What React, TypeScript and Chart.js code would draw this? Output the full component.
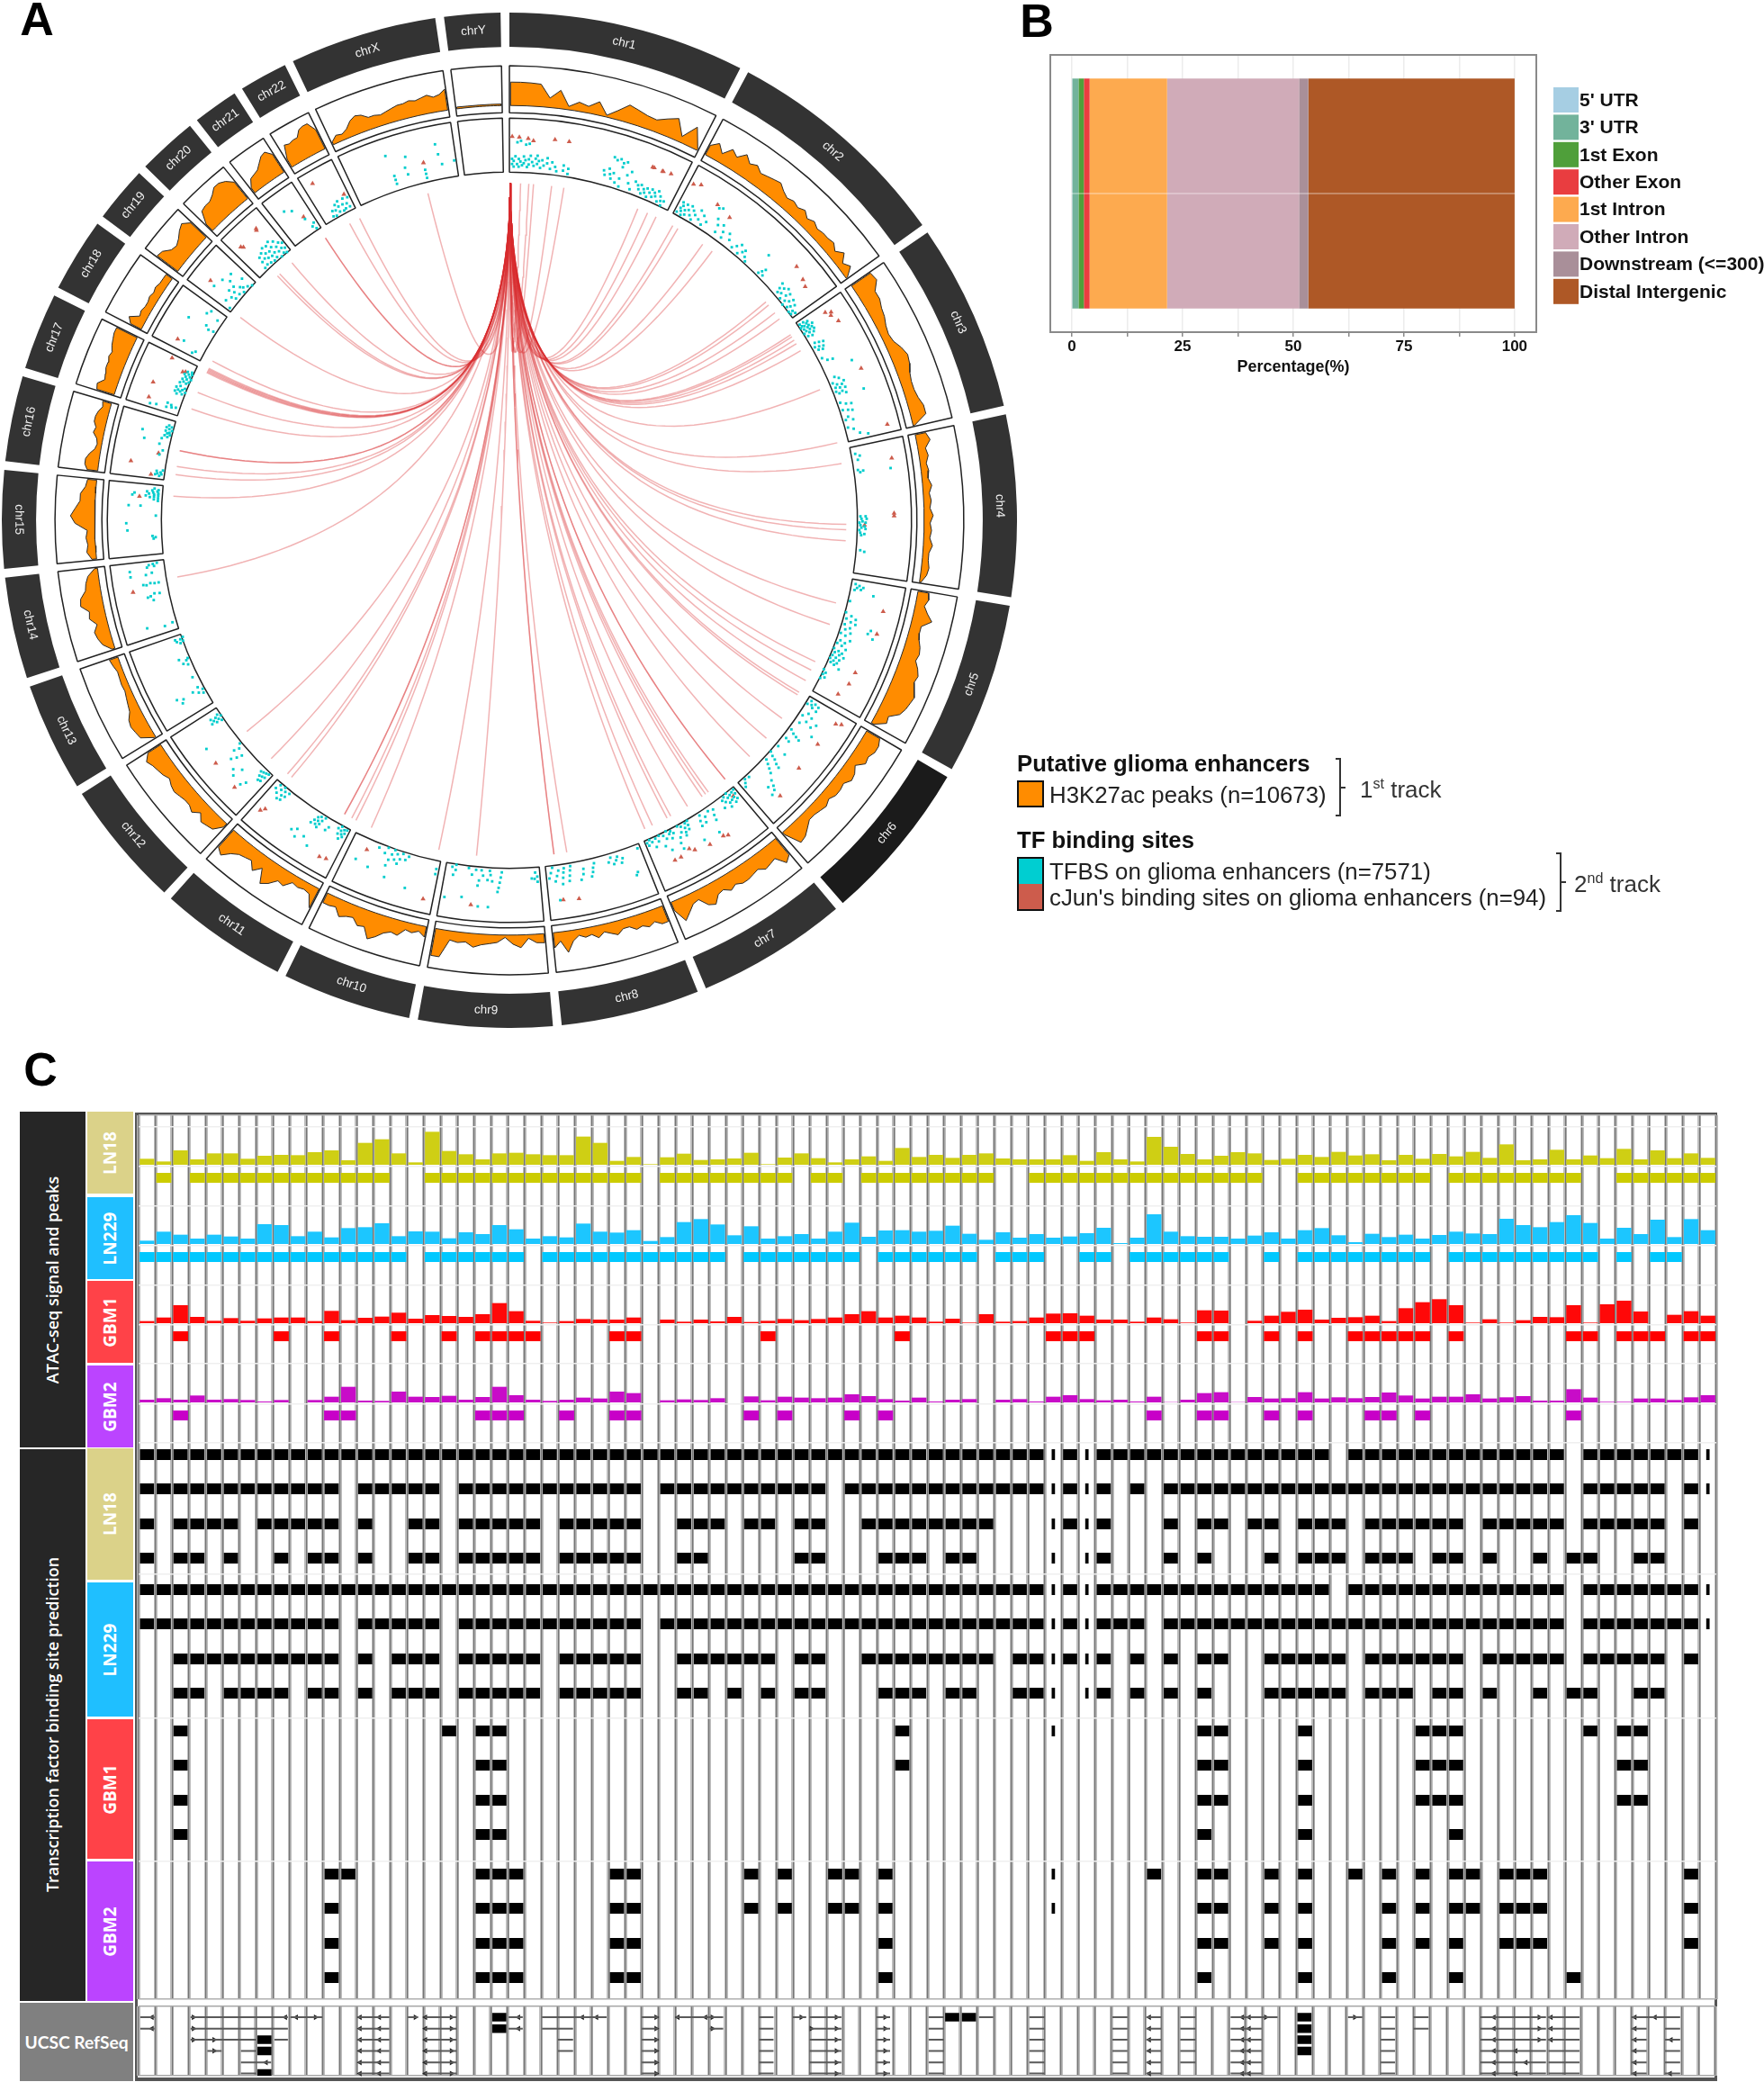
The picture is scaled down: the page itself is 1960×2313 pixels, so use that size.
import React, { useEffect, useRef } from "react";
import { Chart, registerables } from "chart.js";
Chart.register(...registerables);

const SANS = '"Liberation Sans", Arial, sans-serif';
const OPEN = '"Open Sans", sans-serif';

/* ---------- Panel A data ---------- */
const CHROMS = ["chr1","chr2","chr3","chr4","chr5","chr6","chr7","chr8","chr9","chr10","chr11","chr12","chr13","chr14","chr15","chr16","chr17","chr18","chr19","chr20","chr21","chr22","chrX","chrY"];
const CHROM_MB = [249,243,198,191,181,171,159,146,141,136,135,134,115,107,103,90,81,78,59,63,48,51,155,59];

const AREA_1 = [.77,.77,.76,.74,.31,.6,.11,.3,.22,.44,.06,.3,.58,.5,.42,.39,.55,.7,.2,.69,.05];
const AREA_2 = [.35,.55,.3,.6,.45,.7,.5,.6,.45,.5,.55,.6,.45,.35,.42,.35,.45,.3,.4,.3,.35,.35,.4,.25,.45,.2,.35,.05];
const AREA_3 = [.75,.8,.55,.55,.45,.4,.3,.25,.3,.45,.55,.5,.4,.35,.35,.4,.5,.5,.05];
const AREA_4 = [.35,.45,.25,.3,.2,.25,.2,.3,.2,.25,.2,.3,.2,.25,.2,.3,.2,.2,.25,.2,.05];
const AREA_5 = [.35,.4,.3,.45,.65,.35,.35,.4,.5,.55,.5,.65,.75,.7,.8,.9,.85,.8,.7,.4,.45,.1];
const AREA_6 = [.5,.6,.6,.5,.55,.3,.45,.5,.35,.4,.4,.3,.4,.35,.3,.3,.45,.6,.65,.1];
const AREA_7 = [.7,.85,.5,.55,.6,.45,.5,.55,.55,.45,.55,.4,.45,.7,.6,.3,.35,.55,.75,.3];
const AREA_8 = [.55,.55,.4,.5,.4,.45,.3,.3,.45,.35,.25,.4,.25,.3,.2,.35,.7,.3,.5];
const AREA_9 = [.3,.28,.12,.42,.3,.08,.25,.3,.35,.45,.3,.35,.3,.9,.9];
const AREA_10 = [.35,.2,.3,.25,.5,.45,.55,.75,.9,.55,.6,.4,.45,.55,.3,.35,.35];
const AREA_11 = [.7,.3,.25,.3,.25,.5,.45,.7,.85,.4,.65,.4,.45,.5,.65,.9,.75];
const AREA_12 = [.15,.45,.5,.55,.35,.55,.45,.45,.5,.55,.5,.4,.5,.55,.6,.7,.5];
const AREA_13 = [.05,.45,.5,.55,.5,.35,.3,.25,.2,.22,.2,.18,.25,.3];
const AREA_14 = [.1,.35,.45,.5,.35,.55,.5,.75,.7,.5,.45,.35,.1];
const AREA_15 = [.15,.3,.25,.3,.25,.65,.8,.65,.5,.5,.35,.3];
const AREA_16 = [.35,.45,.45,.35,.2,.15,.2,.35,.3,.4,.4,.35,.25,.3];
const AREA_17 = [.6,.65,.45,.5,.55,.55,.6,.55,.65,.7,.75,.75];
const AREA_18 = [.4,.55,.25,.3,.25,.25,.3,.25,.3,.25,.25,.25];
const AREA_19 = [.85,.8,.6,.55,.65,.8,.9,.7];
const AREA_20 = [.3,.7,.75,.75,.85,1,1,.9,.7];
const AREA_21 = [.2,.45,.5,.55,.7,.85,.9,.7];
const AREA_22 = [.3,.75,.7,.75,.75,.95,1,1,.7];
const AREA_X = [.1,.25,.2,.3,.5,.6,.55,.4,.4,.35,.4,.45,.5,.5,.55,.5,.55,.6,.5,.55,.7];
const AREA_Y = [.06,.05,.05,.05,.05];
const AREAS = [AREA_1,AREA_2,AREA_3,AREA_4,AREA_5,AREA_6,AREA_7,AREA_8,AREA_9,AREA_10,AREA_11,AREA_12,AREA_13,AREA_14,AREA_15,AREA_16,AREA_17,AREA_18,AREA_19,AREA_20,AREA_21,AREA_22,AREA_X,AREA_Y];

const TF_1 = [.01,.2,.01,.3,.02,.15,.02,.26,.03,.35,.04,.2,.05,.3,.05,.15,.06,.25,.07,.18,.08,.35,.08,.22,.09,.28,.1,.15,.11,.3,.11,.2,.12,.37,.13,.25,.14,.18,.15,.32,.16,.22,.16,.38,.17,.28,.18,.15,.19,.3,.2,.2,.22,.35,.22,.25,.24,.15,.25,.28,.27,.2,.28,.12,.32,.25,.32,.15,.35,.2,.35,.1,.04,.62,.06,.65,.09,.58,.11,.6,.6,.62,.62,.58,.64,.62,.66,.56,.68,.6,.66,.48,.56,.32,.57,.24,.59,.38,.6,.28,.61,.2,.62,.32,.64,.15,.66,.25,.67,.1,.7,.36,.72,.22,.74,.12,.76,.3,.78,.25,.79,.18,.8,.28,.81,.12,.82,.22,.83,.16,.84,.26,.85,.1,.86,.2,.87,.28,.88,.14,.89,.24,.9,.18,.91,.3,.92,.1,.93,.22,.94,.14,.95,.06,.96,.16,.72,.45];
const TF_2 = [.01,.1,.02,.2,.02,.32,.03,.15,.03,.26,.04,.08,.05,.2,.05,.32,.06,.12,.07,.24,.08,.34,.09,.16,.1,.28,.11,.1,.12,.22,.14,.36,.15,.18,.17,.3,.18,.12,.2,.22,.22,.58,.24,.62,.25,.4,.27,.3,.28,.16,.3,.36,.32,.25,.33,.14,.36,.3,.38,.2,.42,.12,.44,.2,.46,.28,.47,.1,.49,.18,.5,.24,.52,.14,.54,.08,.62,.48,.65,.1,.66,.17,.67,.24,.68,.12,.8,.3,.81,.2,.82,.12,.83,.26,.84,.16,.85,.32,.86,.08,.87,.2,.88,.28,.89,.12,.9,.04,.91,.18,.92,.26,.93,.08,.94,.14,.95,.22,.96,.05,.97,.12,.98,.06,.99,.14];
const TF_3 = [.02,.08,.02,.16,.03,.24,.04,.1,.04,.2,.05,.06,.05,.14,.06,.22,.06,.3,.07,.1,.07,.18,.08,.26,.09,.12,.09,.2,.1,.06,.1,.28,.11,.16,.12,.24,.13,.1,.14,.18,.2,.14,.21,.22,.22,.3,.23,.1,.24,.18,.25,.26,.26,.14,.27,.22,.33,.12,.36,.2,.37,.3,.44,.62,.5,.18,.52,.25,.54,.1,.55,.32,.56,.17,.57,.26,.58,.12,.59,.2,.6,.3,.61,.1,.62,.22,.63,.15,.64,.28,.66,.62,.7,.1,.72,.2,.73,.3,.76,.1,.77,.2,.78,.28,.82,.16,.84,.1,.85,.24,.9,.1,.92,.2,.96,.3,.98,.45];
const TF_4 = [.05,.12,.07,.2,.1,.15,.18,.12,.19,.22,.2,.16,.2,.75,.55,.1,.55,.2,.57,.12,.57,.22,.59,.14,.6,.08,.6,.2,.62,.1,.63,.18,.64,.12,.65,.2,.66,.08,.68,.1,.69,.18,.7,.12,.82,.12,.83,.2];
const TF_5 = [.03,.12,.04,.2,.05,.28,.06,.16,.07,.24,.08,.12,.1,.5,.18,.08,.28,.06,.3,.18,.32,.28,.33,.1,.35,.2,.36,.3,.37,.62,.38,.1,.4,.22,.4,.58,.42,.14,.43,.7,.44,.26,.46,.08,.47,.18,.5,.3,.52,.12,.53,.22,.55,.08,.56,.18,.58,.28,.6,.06,.61,.16,.62,.24,.63,.1,.64,.2,.65,.3,.66,.08,.67,.16,.68,.24,.69,.06,.7,.14,.71,.22,.72,.1,.73,.18,.75,.3,.8,.04,.82,.1,.84,.06,.86,.12,.88,.05];
const TF_6 = [.02,.12,.03,.22,.04,.3,.05,.16,.06,.08,.07,.2,.08,.3,.13,.2,.15,.3,.17,.12,.18,.45,.2,.25,.22,.38,.24,.15,.28,.5,.33,.1,.35,.18,.36,.26,.37,.34,.42,.12,.43,.2,.52,.1,.54,.3,.6,.06,.62,.14,.63,.22,.65,.3,.66,.38,.68,.1,.7,.18,.72,.26,.74,.34,.78,.45,.8,.55,.82,.62,.84,.5,.86,.66,.9,.1,.94,.08,.96,.14,.98,.2];
const TF_7 = [.01,.08,.02,.16,.03,.26,.04,.1,.05,.2,.06,.3,.07,.12,.08,.22,.09,.05,.1,.14,.11,.24,.12,.32,.13,.08,.14,.18,.16,.12,.18,.26,.28,.15,.3,.25,.31,.35,.33,.12,.38,.18,.4,.28,.42,.1,.44,.2,.45,.3,.5,.55,.55,.06,.56,.14,.57,.22,.58,.08,.6,.16,.61,.24,.62,.3,.63,.1,.65,.2,.66,.06,.68,.28,.7,.38,.72,.14,.74,.08,.75,.22,.76,.12,.78,.04,.8,.18,.82,.1,.84,.3,.86,.06,.88,.16,.9,.08,.92,.24,.94,.12,.96,.06,.98,.16,.99,.1,.7,.5,.35,.58,.8,.42];
const TF_8 = [.02,.12,.2,.2,.22,.28,.25,.14,.27,.2,.3,.26,.32,.12,.35,.2,.5,.14,.52,.22,.53,.3,.55,.38,.62,.2,.63,.3,.66,.4,.75,.1,.76,.18,.77,.28,.78,.38,.82,.12,.83,.2,.84,.3,.85,.42,.88,.15,.9,.25,.92,.35,.94,.08,.96,.18,.98,.28,.1,.55,.12,.6,.9,.72];
const TF_9 = [.02,.22,.02,.32,.04,.14,.05,.26,.08,.25,.4,.12,.41,.22,.42,.32,.43,.42,.44,.5,.5,.3,.52,.18,.53,.1,.55,.28,.6,.2,.62,.1,.64,.3,.65,.4,.68,.1,.72,.2,.76,.08,.9,.05,.9,.15,.92,.25,.94,.1,.53,.8,.63,.8,.8,.65,.97,.7];
const TF_10 = [.02,.2,.02,.3,.35,.1,.38,.18,.42,.08,.44,.2,.46,.3,.48,.12,.5,.24,.52,.06,.54,.16,.56,.28,.6,.06,.62,.18,.7,.12,.89,.5,.74,.55,.57,.4,.54,.62,.3,.7];
const TF_11 = [.02,.08,.03,.16,.04,.24,.05,.1,.06,.2,.07,.3,.08,.14,.09,.06,.1,.22,.12,.12,.22,.2,.24,.28,.3,.08,.32,.16,.33,.24,.34,.32,.35,.1,.36,.2,.37,.28,.38,.14,.4,.22,.42,.3,.5,.55,.4,.6,.8,.1,.82,.2,.84,.3,.85,.12,.86,.22,.88,.06,.88,.32,.9,.14,.92,.24,.94,.08,.96,.18,.55,.62,.48,.7,.32,.72];
const TF_12 = [.03,.08,.04,.18,.05,.28,.06,.1,.07,.2,.08,.3,.09,.12,.1,.22,.12,.14,.15,.5,.18,.6,.28,.38,.3,.58,.35,.5,.4,.2,.42,.3,.45,.4,.48,.15,.5,.25,.52,.08,.7,.65,.86,.08,.87,.18,.88,.28,.89,.12,.9,.22,.91,.05,.92,.16,.93,.26,.94,.1];
const TF_13 = [.17,.1,.2,.18,.22,.08,.24,.28,.27,.15,.18,.55,.25,.62,.22,.5,.42,.15,.6,.12,.63,.2,.66,.12,.68,.08,.7,.25,.9,.1,.92,.04,.93,.16,.95,.08,.96,.18,.97,.02];
const TF_14 = [.1,.12,.08,.28,.12,.62,.7,.2,.7,.28,.71,.36,.69,.44,.7,.5,.55,.22,.56,.32,.53,.4,.52,.46,.47,.36,.9,.72,.83,.72,.97,.26,.96,.34,.98,.18,.93,.38,.94,.24,.83,.42,.85,.3];
const TF_15 = [.22,.2,.24,.16,.26,.22,.35,.7,.45,.72,.56,.15,.7,.45,.7,.68,.78,.12,.8,.2,.82,.12,.83,.28,.84,.2,.85,.36,.86,.12,.87,.2,.88,.3,.89,.12,.9,.22,.91,.34,.92,.14,.93,.24,.94,.12,.96,.2,.85,.62,.88,.58];
const TF_16 = [.04,.14,.06,.22,.07,.1,.08,.18,.1,.12,.12,.2,.14,.08,.4,.2,.48,.15,.62,.55,.68,.22,.72,.12,.74,.18,.76,.08,.78,.14,.8,.1,.82,.18,.84,.06,.86,.12,.88,.18,.9,.08,.92,.14,.75,.62,.58,.24];
const TF_17 = [.05,.62,.08,.3,.1,.2,.12,.12,.14,.22,.16,.3,.07,.5,.38,.2,.4,.1,.42,.25,.44,.15,.45,.05,.46,.2,.48,.12,.5,.25,.52,.08,.54,.18,.6,.22,.62,.1,.64,.16,.66,.06,.68,.2,.7,.12,.72,.04,.74,.16,.76,.08,.78,.2,.8,.12,.82,.06,.84,.16,.86,.08];
const TF_18 = [.1,.2,.18,.5,.05,.25,.62,.1,.6,.2,.65,.28,.6,.65,.85,.4,.93,.35,.85,.15];
const TF_19 = [.05,.1,.15,.25,.25,.6,.3,.2,.35,.12,.4,.32,.45,.22,.5,.55,.5,.12,.55,.3,.6,.42,.62,.08,.65,.2,.7,.15,.75,.5,.8,.1,.85,.28,.9,.05];
const TF_20 = [.25,.1,.3,.22,.32,.32,.35,.12,.4,.24,.42,.36,.45,.1,.48,.2,.5,.3,.52,.42,.55,.08,.58,.18,.6,.28,.62,.4,.65,.1,.68,.2,.7,.32,.72,.44,.75,.05,.78,.16,.8,.26,.82,.38,.85,.08,.88,.18,.9,.3,.92,.05,.95,.14,.97,.25];
const TF_21 = [.35,.7,.55,.62,.75,.35,.82,.15,.9,.08,.92,.2];
const TF_22 = [.3,.1,.35,.2,.4,.08,.45,.18,.5,.28,.55,.12,.58,.22,.62,.32,.68,.1,.72,.22,.76,.12,.8,.32,.85,.2,.9,.12,.95,.3];
const TF_X = [.38,.75,.4,.33,.4,.25,.4,.17,.52,.42,.53,.28,.7,.2,.7,.12,.7,.28,.84,.72,.85,.52,.87,.32,.99,.35,.55,.62];
const TF_Y: number[] = [];
const TFBS = [TF_1,TF_2,TF_3,TF_4,TF_5,TF_6,TF_7,TF_8,TF_9,TF_10,TF_11,TF_12,TF_13,TF_14,TF_15,TF_16,TF_17,TF_18,TF_19,TF_20,TF_21,TF_22,TF_X,TF_Y];

const CJ_1 = [.01,.73,.05,.72,.1,.7,.13,.66,.25,.72,.33,.72,.82,.68,.83,.68,.88,.68,.885,.68,.93,.7];
const CJ_2 = [.02,.72,.06,.78,.2,.62,.3,.55,.78,.72,.86,.65,.9,.6];
const CJ_3 = [.05,.62,.07,.72,.09,.68,.15,.75,.52,.72,.95,.85];
const CJ_4 = [.13,.8,.53,.75,.55,.75,.62,.18];
const CJ_5 = [.2,.75,.38,.75,.72,.62,.82,.6,.93,.5];
const CJ_6 = [.06,.85,.08,.75,.3,.68,.55,.68,.82,.78];
const CJ_7 = [.05,.18,.3,.72,.34,.68,.48,.68,.62,.62,.66,.55,.76,.62,.82,.62];
const CJ_8 = [.87,.72,.72,.75];
const CJ_9 = [.7,.78];
const CJ_10 = [.82,.25,.09,.82];
const CJ_11 = [.15,.78,.08,.75,.9,.62,.93,.7];
const CJ_12 = [.2,.72,.52,.68];
const CJ_13: number[] = [];
const CJ_14 = [.63,.72];
const CJ_15 = [.83,.48];
const CJ_16 = [.42,.22,.22,.72,.05,.3];
const CJ_17 = [.15,.68,.42,.7,.8,.25,.95,.55,.82,.2];
const CJ_18 = [.15,.62];
const CJ_19 = [.3,.72];
const CJ_20 = [.18,.72,.22,.68,.7,.75,.72,.78];
const CJ_21 = [.75,.4];
const CJ_22 = [.25,.85,.9,.38];
const CJ_X = [.7,.42];
const CJ_Y: number[] = [];
const CJUN = [CJ_1,CJ_2,CJ_3,CJ_4,CJ_5,CJ_6,CJ_7,CJ_8,CJ_9,CJ_10,CJ_11,CJ_12,CJ_13,CJ_14,CJ_15,CJ_16,CJ_17,CJ_18,CJ_19,CJ_20,CJ_21,CJ_22,CJ_X,CJ_Y];

const LINK_TARGET_DEG = [1.9,3.3,4.1,7.2,9.3,22.4,24.2,25.8,29,30,35,37,49.6,50.3,52,53.3,56.6,57,57.7,58.4,59.8,67.2,76.7,80.3,90.7,91.6,93.5,104.2,108,114.8,116.4,118.4,120.7,121.2,126,130.3,134.5,140.2,140.2,143.8,144.4,145.1,148.1,151.4,152.1,154.9,156.3,170.2,172.4,172.4,185.6,192.1,204.2,207.1,207.9,209.3,209.3,220.3,221.2,225,231.2,260.3,274.1,277.8,279.2,281.9,281.9,289.3,292.3,296,296.2,296.4,296.6,296.8,298.2,307,316.5,317,319.8,326.9,326.9,331.7,333.6,346];

/* ---------- Panel B data ---------- */
const ANNO_LABELS = ["5' UTR","3' UTR","1st Exon","Other Exon","1st Intron","Other Intron","Downstream (<=300)","Distal Intergenic"];
const ANNO_VALUES = [0.1,1.4,1.2,1.3,17.5,29.8,2.1,46.6];
const ANNO_COLORS = ["#a6cee3","#72b39b","#4f9f3a","#e93d40","#fdaa4f","#d0abb8","#a98f99","#ae5826"];
const PCT_TICKS = [0,12.5,25,37.5,50,62.5,75,87.5,100];

/* ---------- Panel C data ---------- */
const SIG_LN18 = [20,11,48,18,38,38,20,30,33,32,42,48,15,73,85,38,8,110,46,35,18,38,40,35,32,32,94,73,13,26,2,25,37,16,18,21,40,2,24,38,22,8,18,28,13,56,26,33,23,33,38,21,18,18,18,32,13,42,18,11,93,60,36,18,30,42,38,16,20,33,26,43,31,35,15,33,20,36,28,43,23,68,15,18,50,18,31,22,53,18,48,22,38,23];
const SIG_LN229 = [11,41,31,18,31,25,18,66,63,26,41,22,53,56,69,26,42,41,19,39,33,63,49,18,26,22,68,41,38,46,10,23,73,83,65,29,59,18,26,33,18,41,71,24,45,46,41,44,61,34,14,39,21,33,21,25,36,54,3,21,99,41,26,24,24,18,28,39,18,46,53,29,6,34,23,31,18,30,41,35,33,84,63,56,73,96,70,18,54,33,81,23,83,46];
const SIG_GBM1 = [7,19,60,21,8,17,8,16,19,19,7,41,10,18,22,35,15,27,24,21,30,67,40,8,2,7,14,12,12,19,0,12,5,12,6,21,4,8,14,10,14,19,30,40,19,25,19,5,15,2,30,5,7,19,32,33,25,12,12,5,19,13,2,43,42,0,8,25,38,45,12,18,20,25,7,50,70,80,60,2,13,2,10,21,20,60,2,63,75,39,0,28,40,25];
const SIG_GBM2 = [9,14,9,23,9,11,8,3,8,0,8,19,52,6,5,36,19,18,22,9,18,52,24,9,5,9,16,13,36,31,0,7,10,8,14,0,20,7,19,16,14,16,27,21,11,6,16,3,9,11,0,9,11,3,19,24,11,7,9,3,19,1,9,31,34,1,18,13,14,34,13,17,14,18,33,23,13,19,19,27,13,17,21,6,6,44,16,2,2,13,13,8,17,24];
const PEAK_LN18 = "1 3-14 17-29 31-38 40 41 43-50 53-66 69-76 78-85 88-93";
const PEAK_LN229 = "0-15 17-22 24-34 36-42 44-49 51-53 56 57 59-64 67 69-76 78-86 88 90 91";
const PEAK_GBM1 = "2 8 11 15 18 20-23 28 29 37 45 54-56 63 64 67 69 72-76 78 85 86 88-90 92 93";
const PEAK_GBM2 = "2 11 12 20-22 25 28 29 36 38 42 44 60 63 64 67 69 73 74 76 85";
const TF_R1 = "0-70 72-84 86-93";
const TF_R2 = "0-11 13-17 19-29 31-40 42-57 59 61-84 86-90 92 93";
const TF_R3 = "0 2-5 7-11 13 16 17 19-23 25-29 32-34 36 37 39 40 43-50 54-57 61 63 64 66 67 69-71 73-78 80-84 86-90 92";
const TF_R4 = "0 2 3 5 8 10 11 13 16 17 19-23 25-29 32 33 39 40 44-46 48 49 54 56 57 61 63 67 69-71 73-75 77 78 80 83 85 86 89 90";
const TF_R5 = "0-70 72-84 86-93";
const TF_R6 = "0-11 13-17 19-29 31-59 61-84 86-93";
const TF_R7 = "2-11 13 15-17 19-23 25-29 32-37 39 40 43-50 52-57 59 61 63 64 67-71 73-78 80-84 86-90 92";
const TF_R8 = "2 3 5-8 10 11 13 15-17 19-23 25-29 32 33 35 37 39 40 44-46 48 49 52-54 56 57 59 61 63 67-71 73-75 77 78 80 83 85 86 89 90";
const TF_R9 = "2 18 20 21 45 54 63 64 69 76-78 86 88 89";
const TF_R10 = "2 20 21 45 63 64 69 76-78 88 89";
const TF_R11 = "2 20 21 63 64 69 76-78 88 89";
const TF_R12 = "2 20 21 63 69 78";
const TF_R13 = "11 12 20-22 28 29 36 38 41 42 44 54 60 63 64 67 69 72 74 76 78 79 81-83 92";
const TF_R14 = "11 20-22 28 29 36 38 41 42 44 54 63 64 67 69 74 76 78 79 81-83 92";
const TF_R15 = "11 20-22 28 29 44 63 64 67 69 74 76 78 81-83 92";
const TF_R16 = "11 20-22 28 29 44 63 69 74 78 85";
const TF_ROWS = [TF_R1,TF_R2,TF_R3,TF_R4,TF_R5,TF_R6,TF_R7,TF_R8,TF_R9,TF_R10,TF_R11,TF_R12,TF_R13,TF_R14,TF_R15,TF_R16];
const NARROW_COLS = [54,56,93];

const ALL = [0,1,2,3,4,5];
const A5 = [1,2,3,4,5];
const GENE_SEGMENTS: [number[],number,number][] = [
  [[0,1],.1,.95],[[0,1],3.1,8.9],[[0],9.05,10.95],[[2],3.1,7],[[2],8.1,8.9],[[3],4.1,4.95],[[3,5],6.1,7],[[4],6.1,7.9],
  [ALL,13.1,14.05],[ALL,14.05,14.95],[[0],16.05,16.65],[ALL,17.05,18.95],[[0,1],22.05,22.9],[[0],24.05,27.9],[[1],24.05,25.9],[[2,3],25,25.9],
  [ALL,30,30.95],[[0],32.05,34.85],[[1],34.05,34.85],[ALL,37,37.85],[[0],39,39.8],[ALL,40,41.9],[ALL,44,44.8],
  [ALL,47.1,48],[[0],50.1,50.95],[ALL,53.1,54],[ALL,58.05,58.95],[ALL,60.1,60.95],[[0,1,2,3,4],62.1,63],[[0],65.1,67.9],[A5,65.1,66.95],
  [[0],72.1,72.95],[ALL,74.05,74.9],[[0,1],76,76.9],[ALL,80,83.9],[ALL,84.05,85.9],[[0],89,91.9],[A5,89,89.9],[A5,91,91.9],
];
const GENE_ARROWS: [number[],number,number][] = [
  [[0,1],.8,-1],[[0,1,2],3.27,1],[[0],8.75,-1],[[0],9.4,-1],[[0],10.55,1],[[2,3],4.5,1],[[4],7.6,-1],
  [ALL,13.2,-1],[ALL,14.35,-1],[[0],16.5,1],[ALL,17.1,-1],[ALL,18.65,1],[[0,1],22.65,-1],[[0],26.45,-1],[[0],27.3,-1],
  [ALL,30.85,1],[[0],32.15,-1],[[0],33.8,-1],[[0,1],34.2,1],[[0],39.5,1],[[1],40.1,1],[ALL,41.6,1],[ALL,44.5,1],
  [ALL,60.25,-1],[ALL,65.8,-1],[ALL,66.2,-1],[[0],67.2,1],[[0],72.5,1],[ALL,80.8,-1],[[0,1,2],83.5,1],[[0,1,2],84.2,-1],
  [[3,5],82.1,-1],[[4],82.7,-1],[ALL,89.2,-1],[[0],90.4,-1],[[2],91.35,-1],[[5],91.3,-1],
];
const GENE_EXONS: [number,number,number][] = [[2,7,-1],[3,7,-1],[5,7,-1],[0,21,1],[1,21,1],[0,48,0],[0,49,1],[0,69,0],[1,69,0],[2,69,0],[3,69,0]];

/* ---------- Layout constants ---------- */
const CX = 566, CY = 578;
const R_OUT = 563, R_IN = 386;
const GAP_MB = 9.2;
const AREA_R0 = 464, AREA_RS = 34, TF_R0 = 387, TF_RS = 58, LINK_R = 377;
const C_TOP = 1236;
const SIG_BASE = [1294,1382,1470,1558];
const PEAK_TOP = [1303,1391,1479,1567];
const PEAK_H = 11;
const TF_Y_PX = [1616,1654,1693,1731,1766,1804,1843,1881,1923,1961,2000,2038,2082,2120,2159,2197];
const TF_H = 12;
const C_RULES = [1239,1252,1340,1428,1515,1603,1749,1909,2068,2221,1296,1384,1472,1560];
const C_EDGES = [1239,2221];
const GENE_ROW_Y = [13.7,27,40,53,66.5,79.5];
const TRACKS = [
  { sig: SIG_LN18, peak: PEAK_LN18, sigColor: "#cfcf14", peakColor: "#cccc00" },
  { sig: SIG_LN229, peak: PEAK_LN229, sigColor: "#1cc6ff", peakColor: "#00c8ff" },
  { sig: SIG_GBM1, peak: PEAK_GBM1, sigColor: "#ff0808", peakColor: "#ff0000" },
  { sig: SIG_GBM2, peak: PEAK_GBM2, sigColor: "#c80cc8", peakColor: "#c800c8" },
];

const COLS = Array.from({ length: 94 }, (_, i) => String(i));
function parseCols(s: string) {
  const out = new Set<number>();
  s.split(" ").forEach((p) => {
    const [a, b] = p.split("-").map(Number);
    for (let i = a; i <= (b ?? a); i++) out.add(i);
  });
  return out;
}

const cum: number[] = [0];
CHROM_MB.forEach((m) => cum.push(cum[cum.length - 1] + m + GAP_MB));
const deg = (i: number, f: number) => {
  const k = 360 / cum[24];
  const s = cum[i] * k + 0.15;
  const e = s - 0.3 + CHROM_MB[i] * k;
  return s + f * (e - s);
};
const polar = (d: number, r: number) => {
  const t = (d * Math.PI) / 180;
  return { x: r * Math.sin(t), y: -r * Math.cos(t) };
};
const baseOpts = { responsive: false, animation: false as const, devicePixelRatio: 1, events: [] as string[] };

function useChart(make: (c: HTMLCanvasElement) => Chart) {
  const ref = useRef<HTMLCanvasElement>(null);
  useEffect(() => {
    const ch = make(ref.current!);
    return () => ch.destroy();
  }, []);
  return ref;
}

function Cv({ make, x, y, w, h }: any) {
  const ref = useChart(make);
  return <canvas ref={ref} width={w} height={h} style={{ position: "absolute", left: x, top: y, width: w, height: h }} />;
}

/* ---------- Panel A ---------- */
const ringsMake = (c: HTMLCanvasElement) => {
  const data = CHROM_MB.flatMap((m) => [m, GAP_MB]);
  const labels = CHROMS.flatMap((n) => [n, ""]);
  const clear = "rgba(0,0,0,0)";
  const blank = { data, backgroundColor: clear, borderWidth: 0 };
  const outline = data.map((_, i) => (i % 2 ? 0 : 1.5));
  const fillWhite = data.map((_, i) => (i % 2 ? clear : "#ffffff"));
  const labelPlugin = {
    id: "chrLabels",
    afterDatasetsDraw(chart: any) {
      const g = chart.ctx;
      const arcs = chart.getDatasetMeta(0).data;
      CHROMS.forEach((name, i) => {
        const arc = arcs[i * 2];
        const mid = (arc.startAngle + arc.endAngle) / 2;
        const th = (((mid + Math.PI / 2) * 180) / Math.PI + 360) % 360;
        const r = (arc.innerRadius + arc.outerRadius) / 2;
        const px = arc.x + r * Math.cos(mid), py = arc.y + r * Math.sin(mid);
        g.save();
        g.translate(px, py);
        const bottom = th > 90 && th <= 271;
        g.rotate((((bottom ? th - 180 : th) * Math.PI) / 180));
        g.fillStyle = "#f2f2f2";
        g.font = `13.5px ${SANS}`;
        g.textAlign = "center";
        g.textBaseline = "middle";
        g.fillText(name, 0, 0);
        g.restore();
      });
    },
  };
  return new Chart(c, {
    type: "doughnut",
    data: {
      labels,
      datasets: [
        { data, weight: 38, borderWidth: 0, backgroundColor: labels.map((n, i) => (i % 2 ? clear : n === "chr6" ? "#1b1b1b" : "#333333")) },
        { ...blank, weight: 21 },
        { data, weight: 52, backgroundColor: fillWhite, borderColor: "#222222", borderWidth: outline },
        { ...blank, weight: 6 },
        { data, weight: 60, backgroundColor: fillWhite, borderColor: "#222222", borderWidth: outline },
      ],
    } as any,
    options: {
      ...baseOpts,
      maintainAspectRatio: false,
      rotation: 0,
      cutout: `${(R_IN / R_OUT) * 100}%`,
      plugins: { legend: { display: false }, tooltip: { enabled: false } },
    } as any,
    plugins: [labelPlugin],
  });
};

const circosMake = (c: HTMLCanvasElement) => {
  const datasets: any[] = [];
  LINK_TARGET_DEG.forEach((d) => {
    const p0 = polar(0.15, LINK_R), p2 = polar(d, LINK_R);
    const pts = [];
    for (let k = 0; k <= 48; k++) {
      const t = k / 48;
      pts.push({ x: (1 - t) * (1 - t) * p0.x + t * t * p2.x, y: (1 - t) * (1 - t) * p0.y + t * t * p2.y });
    }
    datasets.push({ data: pts, showLine: true, borderColor: "rgba(216,44,48,0.36)", borderWidth: 1.5, pointRadius: 0, tension: 0, clip: false });
  });
  AREAS.forEach((vals, i) => {
    const pts = vals.map((v, j) => polar(deg(i, j / (vals.length - 1)), AREA_R0 + v * AREA_RS));
    for (let k = 12; k >= 0; k--) pts.push(polar(deg(i, k / 12), AREA_R0));
    pts.push(pts[0]);
    datasets.push({ polyFill: "#ff8c00", data: pts, showLine: true, borderColor: "#2a2a2a", borderWidth: 1, pointRadius: 0, tension: 0, clip: false });
  });
  const pointsOf = (src: number[][]) => {
    const out: any[] = [];
    src.forEach((arr, i) => {
      for (let j = 0; j + 1 < arr.length; j += 2) out.push(polar(deg(i, arr[j]), TF_R0 + arr[j + 1] * TF_RS));
    });
    return out;
  };
  datasets.push({ data: pointsOf(TFBS), pointStyle: "rect", pointRadius: 2, backgroundColor: "#00cdcd", borderWidth: 0, clip: false });
  datasets.push({ data: pointsOf(CJUN), pointStyle: "triangle", pointRadius: 3.2, backgroundColor: "#cd5c4c", borderWidth: 0, clip: false });
  const polyPlugin = {
    id: "polyFill",
    beforeDatasetDraw(chart: any, args: any) {
      const ds = chart.data.datasets[args.index];
      if (!ds.polyFill) return;
      const g = chart.ctx;
      const pts = args.meta.data;
      g.save();
      g.beginPath();
      pts.forEach((p: any, i: number) => (i ? g.lineTo(p.x, p.y) : g.moveTo(p.x, p.y)));
      g.closePath();
      g.fillStyle = ds.polyFill;
      g.fill();
      g.restore();
    },
  };
  return new Chart(c, {
    type: "scatter",
    data: { datasets },
    options: {
      ...baseOpts,
      maintainAspectRatio: false,
      layout: { padding: 0 },
      scales: {
        x: { type: "linear", display: false, min: -CX, max: 1140 - CX },
        y: { type: "linear", display: false, min: -CY, max: 1160 - CY, reverse: true },
      },
      plugins: { legend: { display: false }, tooltip: { enabled: false } },
    } as any,
    plugins: [polyPlugin],
  });
};

/* ---------- Panel B ---------- */
const annoMake = (c: HTMLCanvasElement) => {
  const framePlugin = {
    id: "frameB",
    afterDraw(chart: any) {
      const g = chart.ctx, a = chart.chartArea;
      g.save();
      g.strokeStyle = "#8a8a8a";
      g.lineWidth = 2;
      g.strokeRect(a.left, a.top, a.right - a.left, a.bottom - a.top);
      chart.data.datasets.forEach((ds: any, i: number) => {
        const y = 97 + 30.4 * i;
        g.fillStyle = ds.backgroundColor;
        g.fillRect(586, y, 28, 28);
        g.fillStyle = "#111";
        g.font = `bold 21px ${SANS}`;
        g.textBaseline = "middle";
        g.fillText(ds.label, 615, y + 15);
      });
      g.restore();
    },
  };
  return new Chart(c, {
    type: "bar",
    data: {
      labels: ["peaks"],
      datasets: ANNO_LABELS.map((label, i) => ({ label, data: [ANNO_VALUES[i]], backgroundColor: ANNO_COLORS[i], barPercentage: 0.83, categoryPercentage: 1, borderWidth: 0 })),
    },
    options: {
      ...baseOpts,
      indexAxis: "y",
      maintainAspectRatio: false,
      layout: { padding: { left: 27, right: 253, top: 61, bottom: 31 } },
      scales: {
        x: {
          type: "linear", stacked: true, min: -4.88, max: 104.9,
          afterBuildTicks: (s: any) => { s.ticks = PCT_TICKS.map((value) => ({ value })); },
          afterFit: (s: any) => { s.height = 50; },
          grid: { color: "#ececec", lineWidth: 1.5, tickLength: 5, tickColor: "#8a8a8a" },
          border: { display: false },
          ticks: {
            autoSkip: false, maxRotation: 0, padding: 1, color: "#111",
            font: { family: SANS, weight: "bold", size: 17 },
            callback: (v: number) => (v % 25 === 0 ? String(v) : ""),
          },
          title: { display: true, text: "Percentage(%)", color: "#111", padding: { top: 0, bottom: 0 }, font: { family: SANS, weight: "bold", size: 18 } },
        },
        y: {
          stacked: true, display: true, border: { display: false },
          afterFit: (s: any) => { s.width = 0; },
          ticks: { display: false },
          grid: { color: "rgba(255,255,255,0.3)", lineWidth: 2, offset: false, z: 1, drawTicks: false },
        },
      },
      plugins: { legend: { display: false }, tooltip: { enabled: false } },
    } as any,
    plugins: [framePlugin],
  });
};

/* ---------- Panel C ---------- */
const columnGridX = {
  type: "category", labels: COLS, offset: true, position: "bottom",
  ticks: { display: false, autoSkip: false },
  border: { display: false },
  grid: { color: "#bdbdbd", lineWidth: 4, drawTicks: false, offset: true },
};
const columnGridX2 = { ...columnGridX, grid: { ...columnGridX.grid, color: "#757575", lineWidth: 1.3 } };

const tracksMake = (c: HTMLCanvasElement) => {
  const y = (px: number) => px - C_TOP;
  const bar = { type: "bar", grouped: false, categoryPercentage: 1, borderWidth: 0, clip: false };
  const datasets: any[] = [];
  TRACKS.forEach((t, k) => {
    datasets.push({ ...bar, barPercentage: 0.88, backgroundColor: t.sigColor, data: t.sig.map((v) => (v > 0 ? [y(SIG_BASE[k]) - v / 3, y(SIG_BASE[k])] : null)) });
    const on = parseCols(t.peak);
    datasets.push({ ...bar, barPercentage: 0.9, backgroundColor: t.peakColor, data: COLS.map((_, i) => (on.has(i) ? [y(PEAK_TOP[k]), y(PEAK_TOP[k]) + PEAK_H] : null)) });
  });
  TF_ROWS.forEach((row, r) => {
    const on = parseCols(row);
    const span = [y(TF_Y_PX[r]) - TF_H / 2, y(TF_Y_PX[r]) + TF_H / 2];
    datasets.push({ ...bar, barPercentage: 0.84, backgroundColor: "#000", data: COLS.map((_, i) => (on.has(i) && !NARROW_COLS.includes(i) ? span : null)) });
    datasets.push({ ...bar, barPercentage: 0.2, backgroundColor: "#000", data: COLS.map((_, i) => (on.has(i) && NARROW_COLS.includes(i) ? span : null)) });
  });
  return new Chart(c, {
    type: "bar",
    data: { labels: COLS, datasets },
    options: {
      ...baseOpts,
      maintainAspectRatio: false,
      layout: { padding: { left: 4, right: 3, top: 3, bottom: 4 } },
      scales: {
        x: columnGridX,
        x2: columnGridX2,
        y: {
          type: "linear", reverse: true, min: 3, max: 985, display: true,
          afterFit: (s: any) => { s.width = 0; },
          afterBuildTicks: (s: any) => { s.ticks = C_RULES.map((v) => ({ value: v - C_TOP })); },
          ticks: { display: false, autoSkip: false },
          border: { display: false },
          grid: {
            drawTicks: false, lineWidth: 1.5,
            color: (ctx: any) => (C_EDGES.includes(ctx.tick.value + C_TOP) ? "#b0b0b0" : "#efefef"),
          },
        },
      },
      plugins: { legend: { display: false }, tooltip: { enabled: false } },
    } as any,
  });
};

const genesMake = (c: HTMLCanvasElement) => {
  const seg: any[] = [];
  GENE_SEGMENTS.forEach(([rows, a, b]) => rows.forEach((r) => {
    seg.push({ x: a, y: GENE_ROW_Y[r] }, { x: b, y: GENE_ROW_Y[r] }, { x: b, y: null });
  }));
  const exon: any[] = [];
  GENE_EXONS.forEach(([r, col]) => exon.push({ x: col + 0.08, y: GENE_ROW_Y[r] }, { x: col + 0.92, y: GENE_ROW_Y[r] }, { x: col + 0.92, y: null }));
  const arrows = (dir: number) => {
    const out: any[] = [];
    GENE_ARROWS.forEach(([rows, col, d]) => { if (d === dir) rows.forEach((r) => out.push({ x: col, y: GENE_ROW_Y[r] })); });
    return out;
  };
  const chev = (dir: number) => GENE_EXONS.filter((e) => e[2] === dir).map(([r, col]) => ({ x: col + 0.5, y: GENE_ROW_Y[r] }));
  const mk = (data: any[], rotation: number, color: string, r: number) => ({ data, pointStyle: "triangle", rotation, pointRadius: r, backgroundColor: color, borderWidth: 0, clip: false });
  const gx = (color: string, lineWidth: number) => ({
    type: "linear", min: 0, max: 94, position: "bottom",
    afterBuildTicks: (s: any) => { s.ticks = Array.from({ length: 95 }, (_, v) => ({ value: v })); },
    ticks: { display: false, autoSkip: false }, border: { display: false },
    grid: { color, lineWidth, drawTicks: false },
  });
  return new Chart(c, {
    type: "scatter",
    data: {
      datasets: [
        { data: seg, showLine: true, spanGaps: false, borderColor: "#5a5a5a", borderWidth: 2, pointRadius: 0 },
        { data: exon, showLine: true, spanGaps: false, borderColor: "#000", borderWidth: 9.5, pointRadius: 0, borderCapStyle: "butt" },
        mk(arrows(-1), -90, "#222", 3.6),
        mk(arrows(1), 90, "#222", 3.6),
        mk(chev(-1), -90, "#fff", 2.6),
        mk(chev(1), 90, "#fff", 2.6),
      ],
    } as any,
    options: {
      ...baseOpts,
      maintainAspectRatio: false,
      layout: { padding: { left: 4, right: 3, top: 1, bottom: 3 } },
      scales: {
        x: gx("#bdbdbd", 4),
        x2: gx("#757575", 1.3),
        y: {
          type: "linear", reverse: true, min: 1, max: 82, display: true,
          afterFit: (s: any) => { s.width = 0; },
          afterBuildTicks: (s: any) => { s.ticks = [1, 82].map((value) => ({ value })); },
          ticks: { display: false, autoSkip: false }, border: { display: false },
          grid: { color: "#a8a8a8", lineWidth: 1.5, drawTicks: false },
        },
      },
      plugins: { legend: { display: false }, tooltip: { enabled: false } },
    } as any,
  });
};

/* ---------- Static text helpers ---------- */
function Txt({ x, y, rot = 0, children, style, anchor = "center" }: any) {
  const tx = anchor === "center" ? "-50%" : "0";
  return (
    <div style={{ position: "absolute", left: x, top: y, whiteSpace: "nowrap", fontFamily: SANS, transform: `translate(${tx},-50%) rotate(${rot}deg)`, ...style }}>
      {children}
    </div>
  );
}
const Box = ({ x, y, w, h, bg, style }: any) => <div style={{ position: "absolute", left: x, top: y, width: w, height: h, background: bg, ...style }} />;
const Bracket = ({ x, y, h }: any) => (
  <>
    <Box x={x} y={y} w={6} h={h} bg="transparent" style={{ borderTop: "2px solid #333", borderRight: "2px solid #333", borderBottom: "2px solid #333", boxSizing: "border-box" }} />
    <Box x={x + 6} y={y + h / 2 - 1} w={5} h={2} bg="#333" />
  </>
);
const Sup = ({ children }: any) => <sup style={{ fontSize: "0.62em", lineHeight: 0 }}>{children}</sup>;

const CELL_LABELS = [
  ["LN18", 1235, 91, "#dbd289"], ["LN229", 1330, 91, "#1fbfff"], ["GBM1", 1423, 91, "#ff4248"], ["GBM2", 1517, 91, "#bb44ff"],
  ["LN18", 1609, 146, "#dbd289"], ["LN229", 1758, 149, "#1fbfff"], ["GBM1", 1910, 155, "#ff4248"], ["GBM2", 2068, 155, "#bb44ff"],
];

export default function App() {
  return (
    <div style={{ position: "absolute", left: 0, top: 0, width: 1960, height: 2313, overflow: "hidden", background: "#fff" }}>
      <Txt x={41} y={21} style={{ fontWeight: 700, fontSize: 52 }}>A</Txt>
      <Txt x={1152} y={23} style={{ fontWeight: 700, fontSize: 52 }}>B</Txt>
      <Txt x={45} y={1188} style={{ fontWeight: 700, fontSize: 52 }}>C</Txt>

      <Cv make={ringsMake} x={CX - 564} y={CY - 564} w={1128} h={1128} />
      <Cv make={circosMake} x={0} y={0} w={1140} h={1160} />
      <Cv make={annoMake} x={1140} y={0} w={820} h={450} />

      <Txt anchor="left" x={1130} y={848} style={{ fontWeight: 700, fontSize: 25.7, color: "#111" }}>Putative glioma enhancers</Txt>
      <Box x={1130} y={867} w={30} h={30} bg="#ff8c00" style={{ border: "2px solid #111", boxSizing: "border-box" }} />
      <Txt anchor="left" x={1166} y={883} style={{ fontSize: 25.8, color: "#222" }}>H3K27ac peaks (n=10673)</Txt>
      <Bracket x={1484} y={842} h={65} />
      <Txt anchor="left" x={1511} y={877} style={{ fontSize: 26, color: "#333" }}>1<Sup>st</Sup> track</Txt>
      <Txt anchor="left" x={1130} y={933} style={{ fontWeight: 700, fontSize: 25.7, color: "#111" }}>TF binding sites</Txt>
      <Box x={1130} y={952} w={30} h={30} bg="#00ced1" style={{ border: "2px solid #111", borderBottom: "none", boxSizing: "border-box" }} />
      <Box x={1130} y={982} w={30} h={30} bg="#cd5c4c" style={{ border: "2px solid #111", borderTop: "none", boxSizing: "border-box" }} />
      <Txt anchor="left" x={1166} y={968} style={{ fontSize: 25.8, color: "#222" }}>TFBS on glioma enhancers (n=7571)</Txt>
      <Txt anchor="left" x={1166} y={997} style={{ fontSize: 25.8, color: "#222" }}>cJun's binding sites on glioma enhancers (n=94)</Txt>
      <Bracket x={1729} y={947} h={66} />
      <Txt anchor="left" x={1749} y={982} style={{ fontSize: 26, color: "#333" }}>2<Sup>nd</Sup> track</Txt>

      <Box x={22} y={1235} w={73} h={373} bg="#262626" />
      <Box x={22} y={1610} w={73} h={613} bg="#262626" />
      <Box x={22} y={2225} w={126} h={87} bg="#808080" />
      <Txt x={58} y={1422} rot={-90} style={{ fontFamily: OPEN, fontWeight: 600, fontSize: 18, color: "#fff" }}>ATAC-seq signal and peaks</Txt>
      <Txt x={58} y={1916} rot={-90} style={{ fontFamily: OPEN, fontWeight: 600, fontSize: 18, color: "#fff" }}>Transcription factor binding site prediction</Txt>
      <Txt x={85} y={2268} style={{ fontFamily: "Lato, sans-serif", fontWeight: 700, fontSize: 19.2, color: "#fff" }}>UCSC RefSeq</Txt>
      {CELL_LABELS.map(([t, y, h, c]: any, i) => (
        <React.Fragment key={i}>
          <Box x={96.5} y={y} w={51} h={h} bg={c} />
          <Txt x={122} y={y + h / 2} rot={-90} style={{ fontFamily: OPEN, fontWeight: 700, fontSize: 19, color: "#fff" }}>{t}</Txt>
        </React.Fragment>
      ))}

      <Box x={150} y={1236} w={1758} h={1076} bg="#fff" style={{ borderTop: "3px solid #555", borderLeft: "3px solid #555", borderRight: "3px solid #555", borderBottom: "4px solid #555", boxSizing: "border-box" }} />
      <Cv make={tracksMake} x={150} y={C_TOP} w={1760} h={989} />
      <Cv make={genesMake} x={150} y={2225} w={1760} h={85} />
    </div>
  );
}
